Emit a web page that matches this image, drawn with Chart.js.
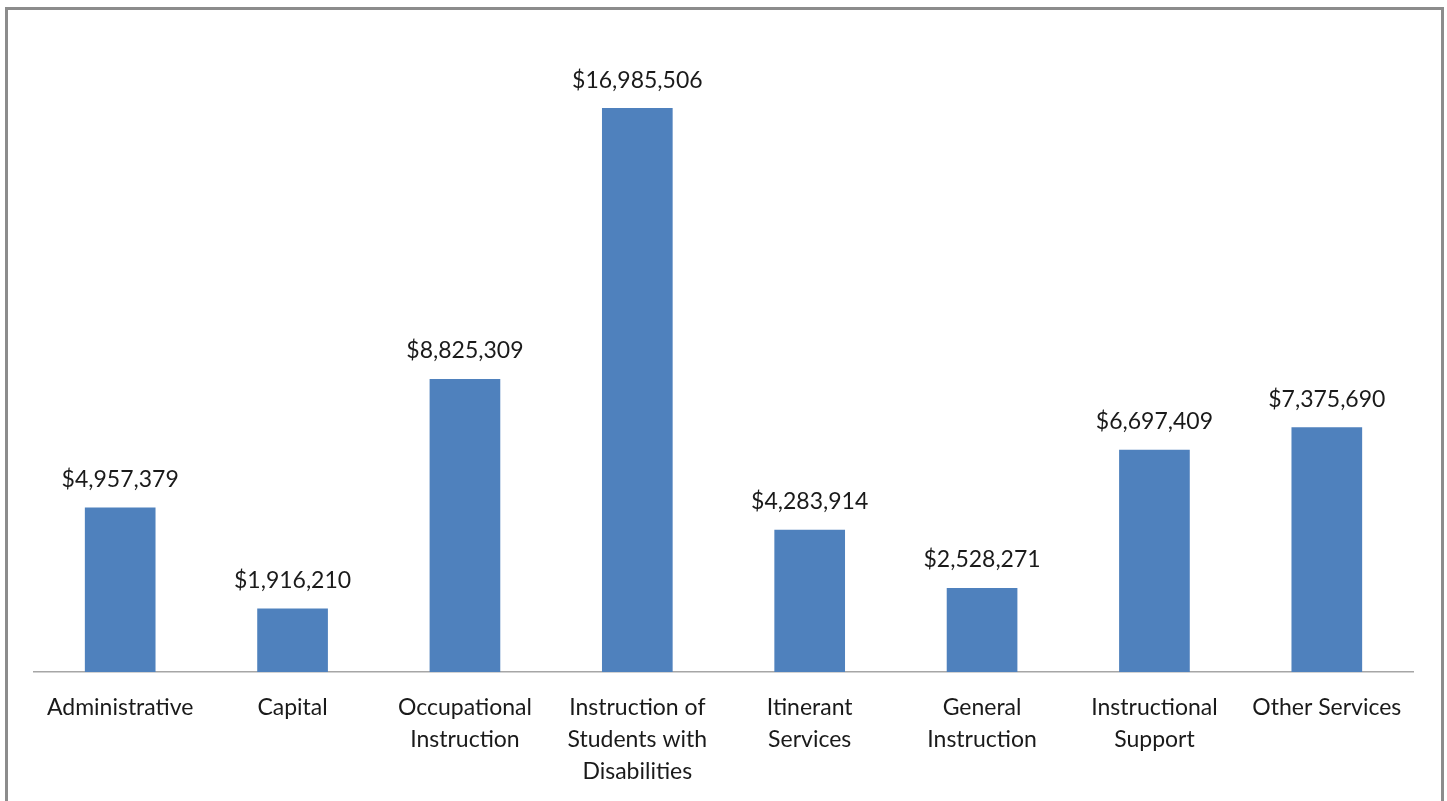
<!DOCTYPE html>
<html>
<head>
<meta charset="utf-8">
<script src="https://cdn.jsdelivr.net/npm/chart.js@4.4.1/dist/chart.umd.min.js"></script>
<style>
  html, body { margin: 0; padding: 0; background: #fff; overflow: hidden; }
  #frame { position: absolute; left: 5px; top: 7px; width: 1433px; height: 820px;
           border: 3px solid #8c8c8c; border-bottom: none; }
  #wrap { position: absolute; left: 0; top: 0; width: 1447px; height: 810px; }
</style>
</head>
<body>
<div id="frame"></div>
<div id="wrap"><canvas id="spendChart"></canvas></div>
<script>
// Categories and amounts
const categories = [
  "Administrative",
  "Capital",
  ["Occupational", "Instruction"],
  ["Instruction of", "Students with", "Disabilities"],
  ["Itinerant", "Services"],
  ["General", "Instruction"],
  ["Instructional", "Support"],
  "Other Services"
];
const amounts = [4957379, 1916210, 8825309, 16985506, 4283914, 2528271, 6697409, 7375690];

const fontFamily = "Lato, 'Open Sans', sans-serif";

// Value labels above each bar
const valueLabels = {
  id: 'valueLabels',
  afterDatasetsDraw(chart) {
    const ctx = chart.ctx;
    const meta = chart.getDatasetMeta(0);
    ctx.save();
    ctx.font = "23px " + fontFamily;
    ctx.fillStyle = "#1a1a1a";
    ctx.textAlign = "center";
    ctx.textBaseline = "middle";
    meta.data.forEach(function(bar, i) {
      ctx.fillText("$" + amounts[i].toLocaleString("en-US"), bar.x, bar.y - 28);
    });
    ctx.restore();
  }
};

const ctx = document.getElementById('spendChart').getContext('2d');

new Chart(ctx, {
  type: 'bar',
  data: {
    labels: categories,
    datasets: [{
      data: amounts,
      backgroundColor: "#4f81bd",
      barPercentage: 0.41,
      categoryPercentage: 1
    }]
  },
  options: {
    responsive: true,
    maintainAspectRatio: false,
    animation: false,
    layout: { padding: { left: 34, right: 34, top: 8, bottom: 10 } },
    plugins: {
      legend: { display: false },
      tooltip: { enabled: false }
    },
    scales: {
      y: { display: false, min: 0, max: 20000000 },
      x: {
        grid: { display: false },
        border: { display: true, color: "#a6a6a6", width: 1.5 },
        ticks: {
          color: "#1a1a1a",
          font: { family: fontFamily, size: 23, lineHeight: "32px" },
          padding: 12,
          maxRotation: 0,
          autoSkip: false
        }
      }
    }
  },
  plugins: [valueLabels]
});
</script>
</body>
</html>
